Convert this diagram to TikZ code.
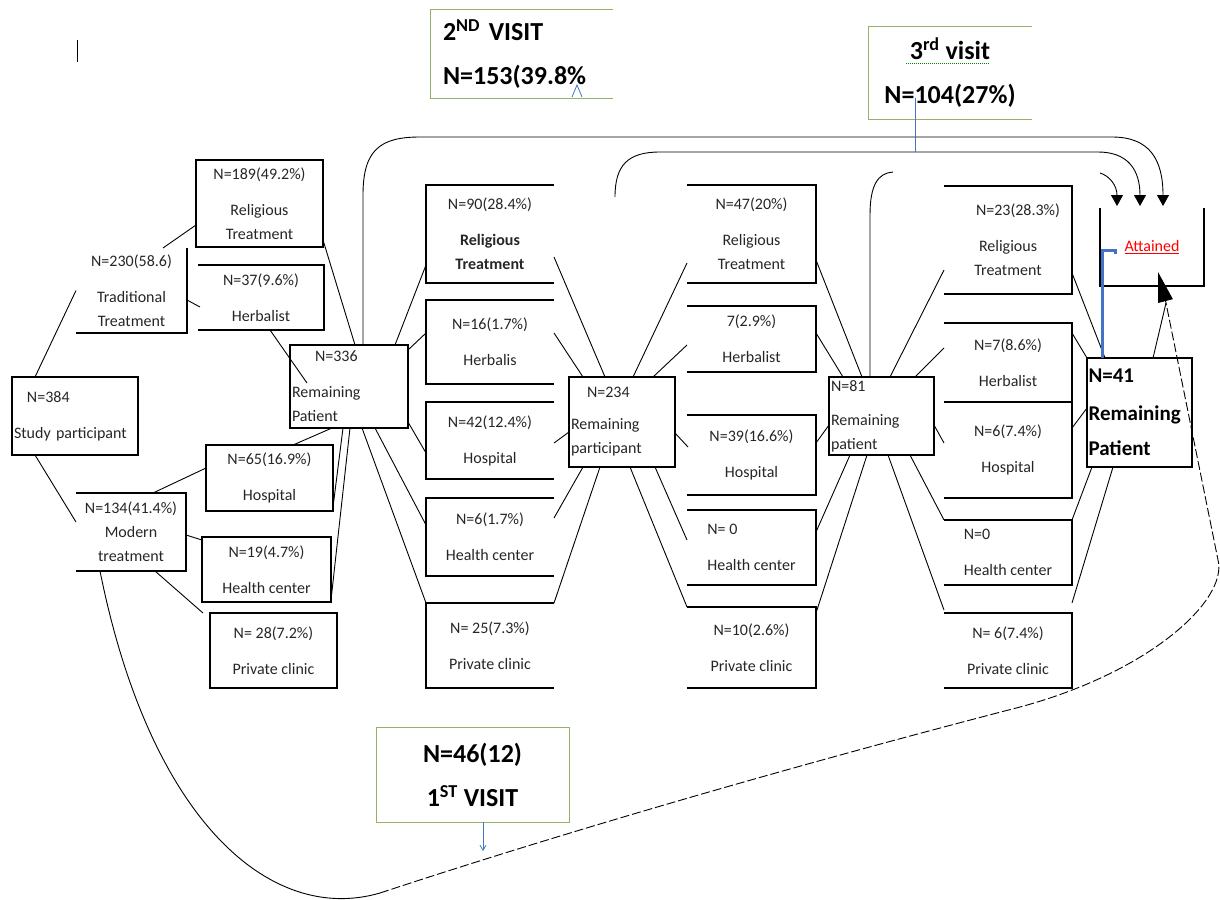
\documentclass[tikz,border=0pt]{standalone}
\usepackage{fontspec}
\setmainfont{Carlito}
\usetikzlibrary{positioning,calc,arrows.meta}
\definecolor{visitgreen}{RGB}{150,178,105}
\definecolor{linkblue}{RGB}{68,114,196}
\newcommand\cellfont{\fontsize{16}{24}\selectfont}
\newcommand\visitfont{\fontsize{26}{44}\selectfont\bfseries}
\newcommand\remfont{\fontsize{21}{35}\selectfont\bfseries}
\tikzset{box/.style={draw,line width=1.3pt,inner sep=0pt,outer sep=0pt,align=center,
                     font=\cellfont,text=black!85},
         openbox/.style={box,draw=none},
         conn/.style={line width=0.9pt},
         visit/.style={inner sep=0pt,outer sep=0pt,align=center,font=\visitfont},
         visittip/.style={-{Triangle[length=11pt,width=12pt]}}}

\begin{document}
\begin{tikzpicture}[x=1pt,y=-1pt,node distance=17pt]
\useasboundingbox (0,0) rectangle (1220,899);

\draw[line width=1pt] (77,40) -- (77,62);

% start and first choice
\node[box,anchor=north west,minimum width=126pt,minimum height=78pt,text width=122pt,align=left] (study) at (12,377)
    {\hspace*{13pt}N=384\\[12pt]Study participant};
\node[openbox,anchor=north west,minimum width=111pt,minimum height=85pt] (trad) at (76,248)
    {N=230(58.6)\\[12pt]Traditional\\Treatment};
\node[openbox,anchor=north west,minimum width=110pt,minimum height=78pt] (modern) at (76,493)
    {N=134(41.4\%)\\Modern\\treatment};

% first visit places
\node[box,anchor=north west,minimum width=127pt,minimum height=87pt] (rel1) at (196,160)
    {N=189(49.2\%)\\[12pt]Religious\\Treatment};
\node[openbox,anchor=north west,minimum width=126pt,minimum height=65pt] (herb1) at (198,265)
    {N=37(9.6\%)\\[12pt]Herbalist};
\node[box,anchor=north west,minimum width=127pt,minimum height=66pt] (hosp1) at (206,445)
    {N=65(16.9\%)\\[12pt]Hospital};
\node[box,anchor=north west,minimum width=129pt,minimum height=65pt] (hc1) at (202,537)
    {N=19(4.7\%)\\[12pt]Health center};
\node[box,anchor=north west,minimum width=127pt,minimum height=75pt] (pc1) at (210,613)
    {N= 28(7.2\%)\\[12pt]Private clinic};

\node[box,anchor=north west,minimum width=118pt,minimum height=83pt,text width=114pt,align=left] (rem1) at (290,345)
    {\hspace*{23pt}N=336\\[12pt]Remaining\\Patient};

% second visit places
\node[openbox,anchor=north west,minimum width=128pt,minimum height=98pt] (rel2) at (426,185)
    {N=90(28.4\%)\\[12pt]\textbf{Religious}\\\textbf{Treatment}};
\node[openbox,below=17pt of rel2,minimum width=128pt,minimum height=84pt] (herb2)
    {N=16(1.7\%)\\[12pt]Herbalis};
\node[openbox,below=18pt of herb2,minimum width=128pt,minimum height=77pt] (hosp2)
    {N=42(12.4\%)\\[12pt]Hospital};
\node[openbox,below=19pt of hosp2,minimum width=128pt,minimum height=78pt] (hc2)
    {N=6(1.7\%)\\[12pt]Health center};
\node[openbox,below=27pt of hc2,minimum width=128pt,minimum height=85pt] (pc2)
    {N= 25(7.3\%)\\[12pt]Private clinic};

\node[box,anchor=north west,minimum width=106pt,minimum height=90pt,text width=102pt,align=left] (rem2) at (569,377)
    {\hspace*{16pt}N=234\\[8pt]Remaining\\participant};

% third visit places
\node[openbox,anchor=north west,minimum width=129pt,minimum height=98pt] (rel3) at (687,185)
    {N=47(20\%)\\[12pt]Religious\\Treatment};
\node[openbox,below=23pt of rel3,minimum width=129pt,minimum height=66pt] (herb3)
    {7(2.9\%)\\[12pt]Herbalist};
\node[openbox,below=43pt of herb3,minimum width=129pt,minimum height=80pt] (hosp3)
    {N=39(16.6\%)\\[12pt]Hospital};
\node[openbox,below=15pt of hosp3,minimum width=129pt,minimum height=75pt,align=left] (hc3)
    {N= 0\\[12pt]Health center};
\node[openbox,below=22pt of hc3,minimum width=129pt,minimum height=81pt] (pc3)
    {N=10(2.6\%)\\[12pt]Private clinic};

\node[box,anchor=north west,minimum width=105pt,minimum height=78pt,text width=101pt,align=left] (rem3) at (829,377)
    {N=81\\[10pt]Remaining\\patient};

% fourth column
\node[openbox,anchor=north west,minimum width=128pt,minimum height=108pt] (rel4) at (944,186)
    {\hspace*{20pt}N=23(28.3\%)\\[12pt]Religious\\Treatment};
\node[openbox,below=29pt of rel4,minimum width=128pt,minimum height=79pt] (herb4)
    {N=7(8.6\%)\\[12pt]Herbalist};
\node[openbox,below=0pt of herb4,minimum width=128pt,minimum height=96pt] (hosp4)
    {N=6(7.4\%)\\[12pt]Hospital};
\node[openbox,below=22pt of hosp4,minimum width=128pt,minimum height=65pt,align=left] (hc4)
    {N=0\\[12pt]Health center};
\node[openbox,below=28pt of hc4,minimum width=128pt,minimum height=75pt] (pc4)
    {N= 6(7.4\%)\\[12pt]Private clinic};

\node[box,anchor=north west,minimum width=105pt,minimum height=109pt,text width=102pt,align=left,font=\remfont,text=black] (rem4) at (1087,358)
    {N=41\\[3pt]Remaining\\Patient};
\node[openbox,anchor=north west,minimum width=104pt,minimum height=78pt,text=red] (attained) at (1100,208)
    {\underline{Attained}};

% visit labels
\node[visit,anchor=north west,minimum width=183pt,minimum height=88pt,text width=157pt,align=left] (visit2) at (430,10)
    {2\textsuperscript{ND} VISIT\\N=153(39.8\%};
\node[visit,anchor=north west,minimum width=164pt,minimum height=92pt] (visit3) at (868,27)
    {3\textsuperscript{rd} visit\\N=104(27\%)};
\node[visit,draw=visitgreen,line width=1pt,anchor=north west,minimum width=193pt,minimum height=95pt] (visit1) at (376,727)
    {N=46(12)\\1\textsuperscript{ST} VISIT};

% open borders
\draw[line width=1.3pt] (trad.north east) -- (trad.south east) -- (trad.south west);
\draw[line width=1.3pt] (hosp4.north east) -- (hosp4.south east) -- (hosp4.south west);
\foreach \n in {rel2,herb2,hosp2,hc2,pc2}
  \draw[line width=1.3pt] (\n.north east) -- (\n.north west) -- (\n.south west) -- (\n.south east);
\foreach \n in {herb1,modern,rel3,herb3,hosp3,hc3,pc3,rel4,herb4,hc4,pc4}
  \draw[line width=1.3pt] (\n.north west) -- (\n.north east) -- (\n.south east) -- (\n.south west);
\draw[line width=1.3pt] (attained.north west) -- (attained.south west) -- (attained.south east) -- (attained.north east);
\foreach \n in {visit2,visit3}
  \draw[visitgreen,line width=1pt] (\n.north east) -- (\n.north west) -- (\n.south west) -- (\n.south east);
\draw[green!50!black,densely dotted,line width=1pt] ($(visit3.north west)+(38,37)$) -- ++(84,0);

% study -> first choice
\draw[conn] ($(study.north west)+(23,0)$) -- (trad.west);
\draw[conn] ($(study.south west)+(23,0)$) -- ($(modern.north west)+(0,29)$);
\draw[conn] ($(trad.north west)+(87,0)$) -- ($(rel1.north west)+(0,65)$);
\draw[conn] ($(trad.north west)+(111,52)$) -- ($(herb1.north west)+(2,42)$);
\draw[conn] ($(modern.north west)+(77,0)$) -- ($(hosp1.north west)+(0,23)$);
\draw[conn] ($(modern.north west)+(110,42)$) -- ($(hc1.north west)+(0,3)$);
\draw[conn] ($(modern.south west)+(79,0)$) -- ($(pc1.north west)+(-7,0)$);
% first places -> N=336
\draw[conn] ($(rel1.north west)+(127,80)$) -- ($(rem1.north west)+(65,0)$);
\draw[conn] ($(herb1.south west)+(72,0)$) -- ($(rem1.north west)+(17,38)$);
\draw[conn] ($(rem1.south west)+(42,0)$) -- ($(hosp1.north west)+(87,0)$);
\draw[conn] ($(rem1.south west)+(53,0)$) -- ($(hosp1.south east)+(0,-4)$);
\draw[conn] ($(rem1.south west)+(60,0)$) -- ($(hc1.south east)+(0,-2)$);
% N=336 -> second places
\draw[conn] ($(rem1.north west)+(105,0)$) -- ($(rel2.north west)+(0,80)$);
\draw[conn] ($(rem1.north west)+(118,5)$) -- ($(herb2.north west)+(0,33)$);
\draw[conn] ($(rem1.north west)+(118,77)$) -- ($(hosp2.north west)+(0,51)$);
\draw[conn] ($(rem1.south west)+(85,0)$) -- ($(hc2.north west)+(0,27)$);
\draw[conn] ($(rem1.south west)+(72,0)$) -- (pc2.north west);
% second places -> N=234
\draw[conn] ($(rel2.north east)+(0,72)$) -- ($(rem2.north west)+(36,0)$);
\draw[conn] ($(herb2.north east)+(0,33)$) -- ($(rem2.north west)+(14,0)$);
\draw[conn] ($(hosp2.north east)+(0,41)$) -- ($(rem2.north west)+(0,55)$);
\draw[conn] ($(hc2.north east)+(0,20)$) -- ($(rem2.south west)+(14,0)$);
\draw[conn] (pc2.north east) -- ($(rem2.south west)+(31,0)$);
% N=234 -> third places
\draw[conn] ($(rem2.north west)+(64,0)$) -- ($(rel3.north west)+(0,78)$);
\draw[conn] ($(rem2.north west)+(84,0)$) -- ($(herb3.north west)+(0,39)$);
\draw[conn] ($(rem2.north east)+(0,56)$) -- ($(hosp3.north west)+(1,32)$);
\draw[conn] ($(rem2.south west)+(86,0)$) -- ($(hc3.north west)+(0,30)$);
\draw[conn] ($(rem2.south west)+(61,0)$) -- (pc3.north west);
% third places -> N=81
\draw[conn] ($(rel3.north east)+(0,75)$) -- ($(rem3.north west)+(33,0)$);
\draw[conn] ($(herb3.north east)+(0,27)$) -- ($(rem3.north west)+(14,0)$);
\draw[conn] ($(hosp3.north east)+(0,28)$) -- ($(rem3.north west)+(0,48)$);
\draw[conn] ($(hc3.north east)+(0,22)$) -- ($(rem3.south west)+(21,0)$);
\draw[conn] ($(pc3.north east)+(0,6)$) -- ($(rem3.south west)+(38,0)$);
% N=81 -> fourth column
\draw[conn] ($(rem3.north west)+(61,0)$) -- ($(rel4.north west)+(0,84)$);
\draw[conn] ($(rem3.north west)+(86,0)$) -- ($(herb4.north west)+(0,25)$);
\draw[conn] ($(rem3.north east)+(0,48)$) -- ($(hosp4.north west)+(0,41)$);
\draw[conn] ($(rem3.south west)+(81,0)$) -- (hc4.north west);
\draw[conn] ($(rem3.south west)+(59,0)$) -- ($(pc4.north west)+(0,-3)$);
% fourth column -> N=41
\draw[conn] ($(rel4.north east)+(0,87)$) -- ($(rem4.north west)+(18,0)$);
\draw[conn] ($(herb4.north east)+(0,10)$) -- (rem4.north west);
\draw[conn] ($(hosp4.north east)+(0,26)$) -- ($(rem4.north west)+(0,50)$);
\draw[conn] (hc4.north east) -- ($(rem4.south west)+(5,0)$);
\draw[conn] ($(pc4.north east)+(0,-10)$) -- ($(rem4.south west)+(26,0)$);

% N=41 -> attained
\coordinate (merge) at ($(attained.south west)+(66,17)$);
\draw[conn] ($(rem4.north west)+(66,0)$) -- (merge);
\draw[conn,-{Triangle[length=30pt,width=15pt]}] (merge) -- ($(attained.south west)+(58,-14)$);
\draw[linkblue,line width=3pt] ($(rem4.north west)+(15,0)$) |- ($(attained.north west)+(15,42)$) -- ++(0,4);

% big loop from modern treatment
\coordinate (loopbottom) at (380,893);
\draw[conn] ($(modern.south west)+(24,0)$) .. controls (150,820) and (270,925) .. (loopbottom);
\draw[conn,dash pattern=on 9pt off 3pt] (loopbottom) .. controls (480,860) and (700,790) .. (1020,707)
    .. controls (1150,672) and (1228,600) .. (1218,560) -- (merge);

% curves over the top
\draw[conn,visittip] ($(rem1.north west)+(73,0)$) -- (363,195) .. controls (363,150) and (380,137) .. (420,137)
    -- (1112,137) .. controls (1150,137) and (1163,160) .. ($(attained.north west)+(63,-2)$);
\coordinate (midstart) at (615,197);
\draw[conn,visittip] (midstart) .. controls (615,165) and (628,152) .. (660,152)
    -- (1098,152) .. controls (1128,152) and (1140,170) .. ($(attained.north west)+(40,-2)$);
\coordinate (innerend) at (893,172);
\draw[conn] ($(rem3.north west)+(41,0)$) -- (870,215) .. controls (870,185) and (878,173) .. (innerend);
\coordinate (arcstart) at (1100,173);
\draw[conn,visittip] (arcstart) .. controls (1110,176) and (1117,186) .. ($(attained.north west)+(17,-2)$);

% blue marks of the visit labels
\coordinate (bluejoin) at (915,152);
\draw[linkblue,line width=0.8pt] ($(visit3.north west)+(47,71)$) -- (bluejoin);
\coordinate (loophit) at (483,851);
\draw[linkblue,line width=0.8pt,-{Straight Barb[length=5pt,width=6pt]}] ($(visit1.south west)+(107,0)$) -- (loophit);
\draw[linkblue,line width=0.8pt] ($(visit2.north west)+(142,87)$) -- ++(5,-12) -- ++(5,12);

\end{tikzpicture}
\end{document}
